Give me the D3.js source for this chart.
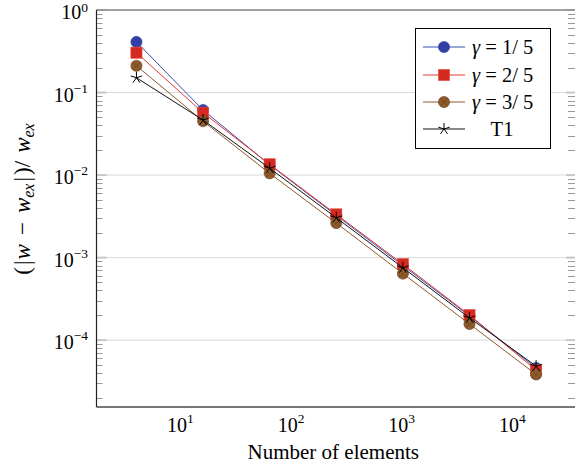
<!DOCTYPE html>
<html><head><meta charset="utf-8">
<script src="https://cdn.jsdelivr.net/npm/d3@7"></script>
<style>body{margin:0;background:#fff}svg{display:block}text{font-family:"Liberation Serif","DejaVu Serif",serif;fill:#000}</style>
</head><body><svg id="c" width="575" height="471"></svg>
<script>
const elements = [4, 16, 64, 256, 1024, 4096, 16384];
const gamma15 = [0.41, 0.0614, 0.0133, 0.00325, 0.00080, 0.000197, 4.6e-5];
const gamma25 = [0.304, 0.0569, 0.0135, 0.00334, 0.000834, 0.000201, 4.33e-5];
const gamma35 = [0.211, 0.045, 0.0105, 0.00262, 0.00064, 0.000157, 3.84e-5];
const t1 = [0.151, 0.0464, 0.0121, 0.00304, 0.000753, 0.000186, 4.84e-5];
const seriesNames = ["γ = 1/ 5", "γ = 2/ 5", "γ = 3/ 5", "T1"];
const xTicks = [10, 100, 1000, 10000];
const yTicks = [1, 0.1, 0.01, 0.001, 0.0001];

const L = 96.5, R = 576, T = 10, B = 407;
const svg = d3.select("#c");
const x = d3.scaleLog().domain([Math.pow(10, 0.241), Math.pow(10, 4.575)]).range([L, R]);
const y = d3.scaleLog().domain([Math.pow(10, -4.81), 1]).range([B, T]);

// grid
svg.append("g").selectAll("line").data(yTicks).join("line")
  .attr("x1", L).attr("x2", R).attr("y1", d => y(d)).attr("y2", d => y(d))
  .attr("stroke", "#d9d9d9").attr("stroke-width", 1);

// minor ticks
const minor = [];
for (let e = -5; e <= 0; e++) for (let m = 2; m <= 9; m++) {
  const v = m * Math.pow(10, e);
  if (v >= y.domain()[0] && v <= 1) minor.push(v);
}
const tg = svg.append("g").attr("stroke", "#9a9a9a").attr("stroke-width", 1);
tg.selectAll(".ml").data(minor).join("line").attr("x1", L).attr("x2", L + 6)
  .attr("y1", d => Math.round(y(d)) + 0.5).attr("y2", d => Math.round(y(d)) + 0.5);
tg.selectAll(".mr").data(minor).join("line").attr("x1", R - 8).attr("x2", R)
  .attr("y1", d => Math.round(y(d)) + 0.5).attr("y2", d => Math.round(y(d)) + 0.5);
tg.selectAll(".Ml").data(yTicks).join("line").attr("x1", L).attr("x2", L + 10)
  .attr("y1", d => y(d)).attr("y2", d => y(d)).attr("stroke", "#c8c8c8").attr("stroke-width", 2);
tg.selectAll(".Mr").data(yTicks).join("line").attr("x1", R - 10).attr("x2", R)
  .attr("y1", d => y(d)).attr("y2", d => y(d)).attr("stroke", "#c8c8c8").attr("stroke-width", 2);

// frame
svg.append("line").attr("x1", L).attr("x2", R).attr("y1", T).attr("y2", T).attr("stroke", "#888").attr("stroke-width", 1.6);
svg.append("line").attr("x1", L).attr("x2", R).attr("y1", B).attr("y2", B).attr("stroke", "#777").attr("stroke-width", 1.8);
svg.append("line").attr("x1", L).attr("x2", L).attr("y1", T).attr("y2", B).attr("stroke", "#222").attr("stroke-width", 1.2);

// tick labels
const supNum = v => Math.round(Math.log10(v));
svg.append("g").selectAll("text").data(yTicks).join("text")
  .attr("x", 88).attr("y", d => y(d) + 9).attr("text-anchor", "end").attr("font-size", 20)
  .each(function (d) {
    const t = d3.select(this);
    t.append("tspan").text("10");
    const e = supNum(d);
    t.append("tspan").attr("dy", e === 0 ? -7.5 : -9).attr("font-size", 13.5).text(e === 0 ? "0" : "−" + (-e));
  });
svg.append("g").selectAll("text").data(xTicks).join("text")
  .attr("x", d => x(d)).attr("y", 432).attr("text-anchor", "middle").attr("font-size", 20)
  .each(function (d) {
    const t = d3.select(this);
    t.append("tspan").text("10");
    t.append("tspan").attr("dy", -9).attr("font-size", 13.5).text(supNum(d));
  });

// axis titles
svg.append("text").attr("x", (L + R) / 2 - 3).attr("y", 459).attr("text-anchor", "middle")
  .attr("font-size", 21).text("Number of elements");
const yt = svg.append("text").attr("transform", `translate(30,199) rotate(-90)`)
  .attr("text-anchor", "middle").attr("font-size", 23);
yt.append("tspan").text("(");
yt.append("tspan").attr("dx", 2).text("|");
yt.append("tspan").attr("dx", 1).attr("font-style", "italic").text("w");
yt.append("tspan").attr("dx", 9).text("−");
yt.append("tspan").attr("dx", 9).attr("font-style", "italic").text("w");
yt.append("tspan").attr("font-style", "italic").attr("font-size", 16).attr("dy", 4).text("ex");
yt.append("tspan").attr("dx", 2).attr("dy", -4).text("|");
yt.append("tspan").attr("dx", 2).text(")/");
yt.append("tspan").attr("dx", 8).attr("font-style", "italic").text("w");
yt.append("tspan").attr("font-style", "italic").attr("font-size", 16).attr("dy", 4).text("ex");

// series
const series = [
  { name: seriesNames[0], vals: gamma15, line: "#3a4db0", fill: "#3040a4", mk: "circle" },
  { name: seriesNames[1], vals: gamma25, line: "#e23a32", fill: "#d42a20", mk: "square" },
  { name: seriesNames[2], vals: gamma35, line: "#8c5a2e", fill: "#8e5a2c", mk: "otimes" },
  { name: seriesNames[3], vals: t1, line: "#111", fill: "#000", mk: "star" }
];
function marker(g, s, cx, cy) {
  if (s.mk === "circle") {
    g.append("circle").attr("cx", cx).attr("cy", cy).attr("r", 5.6).attr("fill", s.fill).attr("stroke", s.fill).attr("stroke-width", 0.6);
  } else if (s.mk === "square") {
    g.append("rect").attr("x", cx - 5.6).attr("y", cy - 5.6).attr("width", 11.2).attr("height", 11.2)
      .attr("fill", s.fill).attr("stroke", "#e8504a").attr("stroke-width", 0.6);
  } else if (s.mk === "otimes") {
    g.append("circle").attr("cx", cx).attr("cy", cy).attr("r", 5.6).attr("fill", s.fill).attr("stroke", "#6e4420").attr("stroke-width", 0.6);
    const k = 5.6 * Math.SQRT1_2;
    g.append("path").attr("d", `M${cx - k},${cy - k}L${cx + k},${cy + k}M${cx - k},${cy + k}L${cx + k},${cy - k}`)
      .attr("stroke", "#6e4420").attr("stroke-width", 0.7);
  } else {
    let d = "";
    for (let i = 0; i < 5; i++) {
      const a = -Math.PI / 2 + i * 2 * Math.PI / 5;
      d += `M${cx},${cy}L${cx + 6 * Math.cos(a)},${cy + 6 * Math.sin(a)}`;
    }
    g.append("path").attr("d", d).attr("stroke", "#000").attr("stroke-width", 1).attr("fill", "none");
  }
}
const line = d3.line().x(d => x(d[0])).y(d => y(d[1]));
series.forEach(s => {
  const g = svg.append("g");
  const pts = elements.map((e, i) => [e, s.vals[i]]);
  g.append("path").attr("d", line(pts)).attr("fill", "none").attr("stroke", s.line).attr("stroke-width", 1);
  pts.forEach(p => marker(g, s, x(p[0]), y(p[1])));
});

// legend
const lg = svg.append("g");
lg.append("rect").attr("x", 415.5).attr("y", 28.5).attr("width", 135).attr("height", 120)
  .attr("fill", "#fff").attr("stroke", "#000").attr("stroke-width", 1);
const rowsY = [47, 75, 102, 129];
series.forEach((s, i) => {
  const yy = rowsY[i];
  lg.append("line").attr("x1", 423).attr("x2", 465).attr("y1", yy).attr("y2", yy).attr("stroke", s.line).attr("stroke-width", 1);
  marker(lg, s, 444, yy);
  const t = lg.append("text").attr("y", yy + 7).attr("font-size", 20.5);
  if (i < 3) {
    t.attr("x", 472);
    t.append("tspan").attr("font-style", "italic").text("γ");
    t.append("tspan").text(s.name.slice(1));
  } else {
    t.attr("x", 502).attr("text-anchor", "middle").text(s.name);
  }
});
</script></body></html>
